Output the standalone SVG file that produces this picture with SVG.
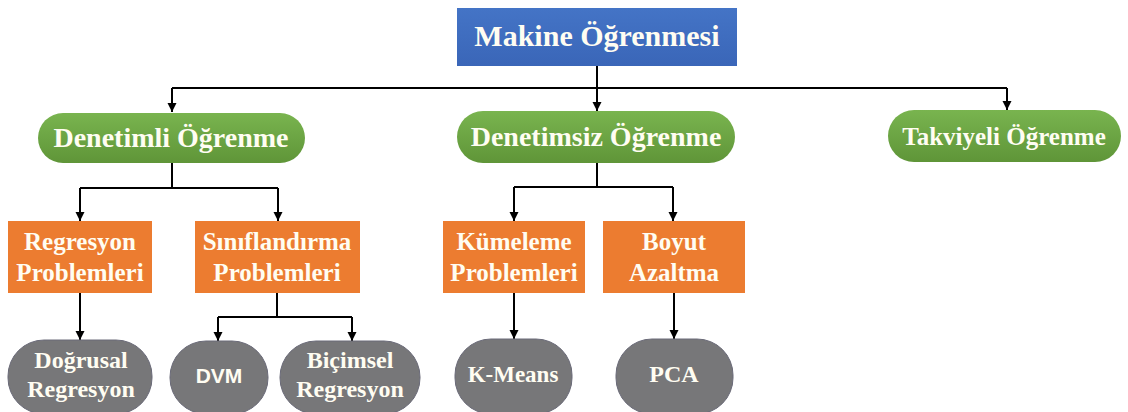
<svg xmlns="http://www.w3.org/2000/svg" width="1128" height="412" viewBox="0 0 1128 412">
<defs>
<linearGradient id="gGreen" x1="0" y1="0" x2="0" y2="1">
<stop offset="0" stop-color="#79b44f"/>
<stop offset="1" stop-color="#5f9538"/>
</linearGradient>
<linearGradient id="gBlue" x1="0" y1="0" x2="0" y2="1">
<stop offset="0" stop-color="#4474c6"/>
<stop offset="1" stop-color="#3a66b8"/>
</linearGradient>
<marker id="arr" viewBox="0 0 10 10" refX="10" refY="5" markerWidth="9" markerHeight="10" markerUnits="userSpaceOnUse" orient="auto">
<path d="M0,0 L10,5 L0,10 Z" fill="#000"/>
</marker>
<style>
.blue{fill:url(#gBlue);}
.green{fill:url(#gGreen);}
.orange{fill:#ec7c30;}
.gray{fill:#777779;stroke:#6a6a78;stroke-width:1;}
.t{font-family:"Liberation Serif","Times New Roman",serif;font-weight:bold;fill:#fffdf2;text-anchor:middle;}
.s{font-family:"Liberation Sans",Arial,sans-serif;font-weight:bold;fill:#fffdf2;text-anchor:middle;}
.c{fill:none;stroke:#000;stroke-width:2;}
</style>
</defs>
<rect width="1128" height="412" fill="#fff"/>
<g id="connectors">
<path class="c" d="M597,66 V88 M172,88 H1007"/>
<path class="c" d="M172,88 V112" marker-end="url(#arr)"/>
<path class="c" d="M597,88 V111" marker-end="url(#arr)"/>
<path class="c" d="M1007,88 V110" marker-end="url(#arr)"/>
<path class="c" d="M172,163 V188 M80,188 H278"/>
<path class="c" d="M80,188 V221" marker-end="url(#arr)"/>
<path class="c" d="M278,188 V221" marker-end="url(#arr)"/>
<path class="c" d="M597,163 V187 M514,187 H673"/>
<path class="c" d="M514,187 V221" marker-end="url(#arr)"/>
<path class="c" d="M673,187 V221" marker-end="url(#arr)"/>
<path class="c" d="M80,293 V340" marker-end="url(#arr)"/>
<path class="c" d="M277,293 V317 M218,317 H352"/>
<path class="c" d="M218,317 V341" marker-end="url(#arr)"/>
<path class="c" d="M352,317 V341" marker-end="url(#arr)"/>
<path class="c" d="M514,293 V339" marker-end="url(#arr)"/>
<path class="c" d="M674,293 V339" marker-end="url(#arr)"/>
</g>
<g id="makine">
<rect class="blue" x="457" y="8" width="280" height="58"/>
<text class="t" x="597" y="46" font-size="30">Makine Öğrenmesi</text>
</g>
<g id="denetimli">
<rect class="green" x="38" y="113" width="267" height="50" rx="25"/>
<text class="t" x="171" y="147" font-size="28">Denetimli Öğrenme</text>
</g>
<g id="denetimsiz">
<rect class="green" x="457" y="111" width="278" height="52" rx="26"/>
<text class="t" x="596" y="146" font-size="28">Denetimsiz Öğrenme</text>
</g>
<g id="takviyeli">
<rect class="green" x="888" y="110" width="233" height="52" rx="26"/>
<text class="t" x="1004" y="145" font-size="25">Takviyeli Öğrenme</text>
</g>
<g id="regresyon">
<rect class="orange" x="8" y="221" width="144" height="72"/>
<text class="t" x="80" y="250" font-size="25">Regresyon</text>
<text class="t" x="80" y="281" font-size="25">Problemleri</text>
</g>
<g id="siniflandirma">
<rect class="orange" x="195" y="221" width="165" height="72"/>
<text class="t" x="277" y="250" font-size="25">Sınıflandırma</text>
<text class="t" x="277" y="281" font-size="25">Problemleri</text>
</g>
<g id="kumeleme">
<rect class="orange" x="443" y="221" width="142" height="72"/>
<text class="t" x="514" y="250" font-size="25">Kümeleme</text>
<text class="t" x="514" y="281" font-size="25">Problemleri</text>
</g>
<g id="boyut">
<rect class="orange" x="603" y="221" width="142" height="72"/>
<text class="t" x="674" y="250" font-size="25">Boyut</text>
<text class="t" x="674" y="281" font-size="25">Azaltma</text>
</g>
<g id="dogrusal">
<rect class="gray" x="8" y="340" width="144" height="74" rx="36"/>
<text class="t" x="81" y="368" font-size="24">Doğrusal</text>
<text class="t" x="81" y="397" font-size="24">Regresyon</text>
</g>
<g id="dvm">
<rect class="gray" x="170" y="341" width="98" height="73" rx="36"/>
<text class="s" x="219" y="383" font-size="21">DVM</text>
</g>
<g id="bicimsel">
<rect class="gray" x="280" y="341" width="140" height="73" rx="36"/>
<text class="t" x="350" y="368" font-size="24">Biçimsel</text>
<text class="t" x="350" y="397" font-size="24">Regresyon</text>
</g>
<g id="kmeans">
<rect class="gray" x="455" y="339" width="117" height="75" rx="36"/>
<text class="t" x="513" y="382" font-size="23">K-Means</text>
</g>
<g id="pca">
<rect class="gray" x="616" y="339" width="117" height="75" rx="36"/>
<text class="t" x="674" y="382" font-size="24">PCA</text>
</g>
</svg>
